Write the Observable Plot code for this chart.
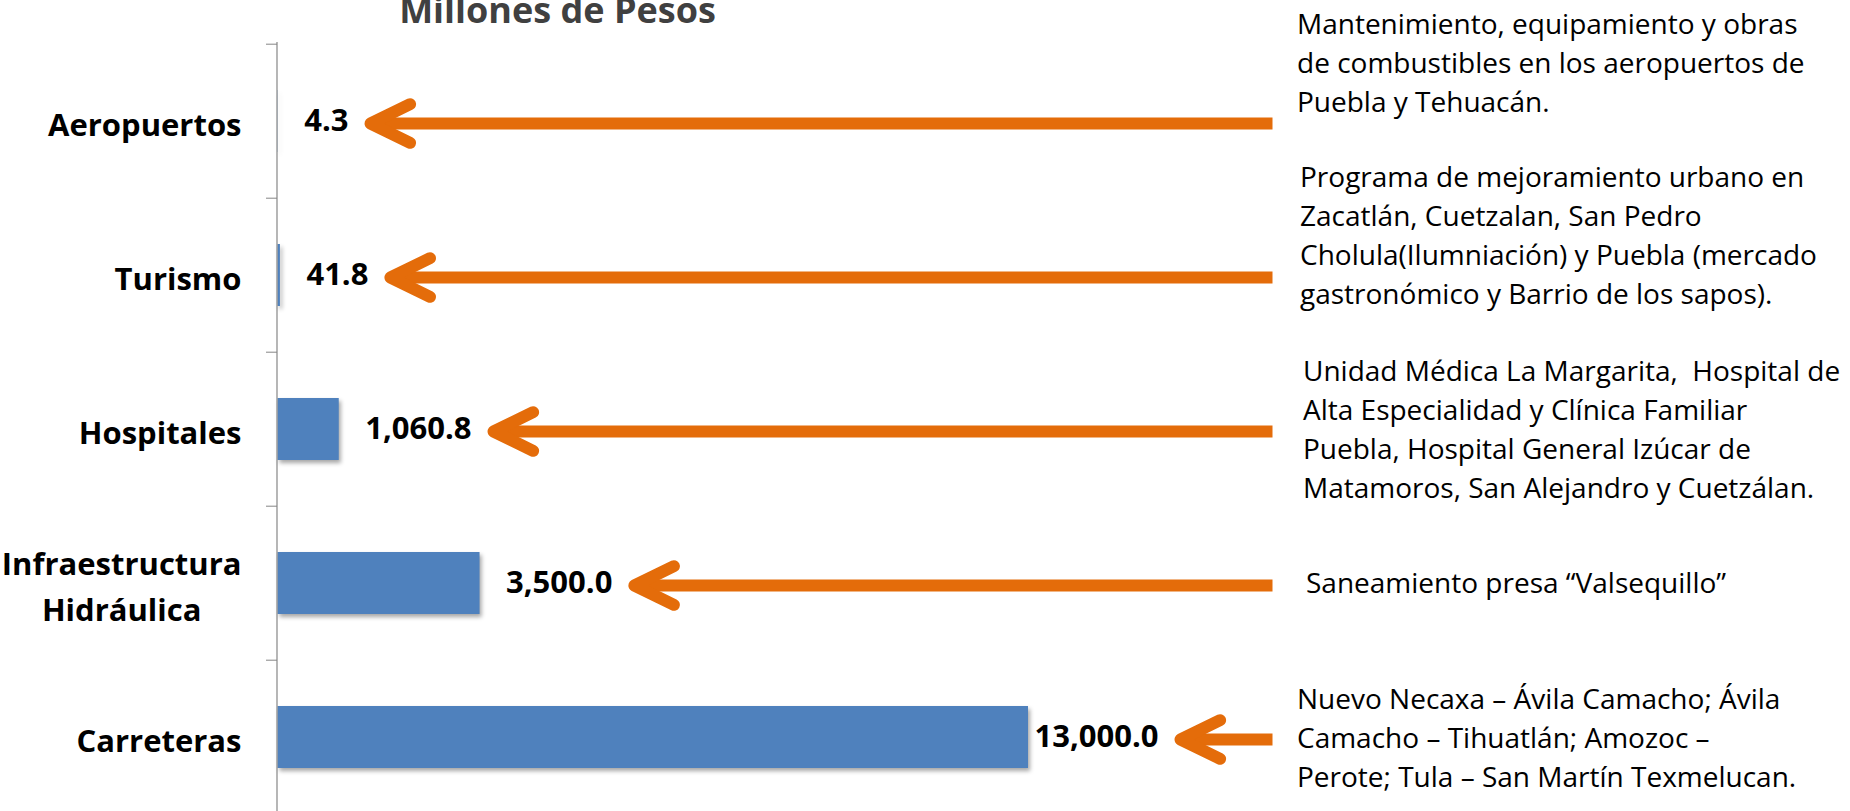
<!DOCTYPE html>
<html>
<head>
<meta charset="utf-8">
<script src="https://cdn.jsdelivr.net/npm/d3@7"></script>
<script src="https://cdn.jsdelivr.net/npm/@observablehq/plot@0.6"></script>
<style>
  html, body { margin: 0; padding: 0; background: #ffffff; }
  #wrap { position: relative; width: 1850px; height: 811px; overflow: hidden; font-family: 'Open Sans', sans-serif; }
  #wrap svg { position: absolute; left: 0; top: 0; }
  .note { position: absolute; font-size: 28px; line-height: 39px; color: #000; white-space: pre; }
</style>
</head>
<body>
<div id="wrap"></div>
<script>
// ---------------- data ----------------
const title = "Millones de Pesos";
const categories = ["Aeropuertos", "Turismo", "Hospitales", "Infraestructura\nHidráulica", "Carreteras"];
const values = [4.3, 41.8, 1060.8, 3500.0, 13000.0];
const notes = [
  "Mantenimiento, equipamiento y obras\nde combustibles en los aeropuertos de\nPuebla y Tehuacán.",
  "Programa de mejoramiento urbano en\nZacatlán, Cuetzalan, San Pedro\nCholula(Ilumniación) y Puebla (mercado\ngastronómico y Barrio de los sapos).",
  "Unidad Médica La Margarita,  Hospital de\nAlta Especialidad y Clínica Familiar\nPuebla, Hospital General Izúcar de\nMatamoros, San Alejandro y Cuetzálan.",
  "Saneamiento presa “Valsequillo”",
  "Nuevo Necaxa – Ávila Camacho; Ávila\nCamacho – Tihuatlán; Amozoc –\nPerote; Tula – San Martín Texmelucan."
];

// ---------------- layout ----------------
const W = 1850, H = 811;
const xDomain = [0, d3.max(values)];
const xRange = [277.5, 1028];
const yRange = [42, 815];
const step = (yRange[1] - yRange[0]) / categories.length;
const noteLefts = [1297, 1300, 1303, 1306, 1297];
const noteTops = [4, 157, 351, 563, 679];
const arrowTail = 1272;
const orange = "#E46C0A";
const fmt = d3.format(",.1f");
const valueFontSize = 31;

const data = categories.map((c, i) => ({cat: c, value: values[i]}));
const vmax = d3.max(values);
const isMax = d => d.value === vmax;

// measure value labels so each arrow points just past its label
const ctx = document.createElement("canvas").getContext("2d");
ctx.font = `bold ${valueFontSize}px 'Open Sans'`;
const xs = d3.scaleLinear(xDomain, xRange);
const labelDx = d => isMax(d) ? 6 : 26;
const arrows = data.map(d => ({
  cat: d.cat,
  x1: xs.invert(arrowTail),
  x2: xs.invert(xs(d.value) + labelDx(d) + ctx.measureText(fmt(d.value)).width + 16 + 6)
}));

// open chevron head (points left)
const half = 26 * Math.PI / 180;
const chevron = {
  draw(context, size) {
    const L = Math.sqrt(size / Math.PI);
    context.moveTo(L * Math.cos(half), -L * Math.sin(half));
    context.lineTo(0, 0);
    context.lineTo(L * Math.cos(half), L * Math.sin(half));
  }
};

const plot = Plot.plot({
  width: W, height: H,
  marginLeft: 277, marginRight: 0, marginTop: 42, marginBottom: 0,
  style: {fontFamily: "'Open Sans', sans-serif", background: "transparent"},
  x: {domain: xDomain, range: xRange, axis: null},
  y: {domain: categories, range: yRange, paddingInner: 0.6, paddingOuter: 0.3, label: null},
  marks: [
    Plot.barX(data, {x: "value", y: "cat", fill: "#4F81BD"}),
    Plot.ruleX([0], {dx: -1, stroke: "#868686", strokeWidth: 1.2}),
    Plot.axisY({tickSize: 11, tickFormat: () => "", dy: -step / 2, stroke: "#868686", label: null}),
    Plot.text(data, {y: "cat", text: "cat", frameAnchor: "left", textAnchor: "end", dx: -36,
      fontSize: 31, fontWeight: "bold", lineHeight: 1.48, fill: "#000"}),
    Plot.text(data.filter(d => !isMax(d)), {x: "value", y: "cat", text: d => fmt(d.value), textAnchor: "start",
      dx: 26, fontSize: valueFontSize, fontWeight: "bold", fill: "#000"}),
    Plot.text(data.filter(isMax), {x: "value", y: "cat", text: d => fmt(d.value), textAnchor: "start",
      dx: 6, fontSize: valueFontSize, fontWeight: "bold", fill: "#000"}),
    Plot.link(arrows, {x1: "x1", x2: "x2", y1: "cat", y2: "cat", dy: 2, stroke: orange, strokeWidth: 12, strokeLinecap: "butt"}),
    Plot.dot(arrows, {x: "x2", y: "cat", dy: 2, r: 44, symbol: chevron, fill: "none", stroke: orange,
      strokeWidth: 12, strokeLinecap: "round", strokeLinejoin: "round"}),
    Plot.text([title], {frameAnchor: "top-left", lineAnchor: "middle", dx: 557 - 277, dy: 10.5 - 42, textAnchor: "middle",
      fontSize: 36, fontWeight: "bold", fill: "#404040"})
  ]
});

const wrap = document.getElementById("wrap");
wrap.appendChild(plot);

// bar drop shadow
d3.select(plot).selectAll('g[aria-label="bar"]').style("filter", "drop-shadow(2px 3px 2px rgba(0,0,0,0.35))");

// center the lines of wrapped category labels (as in the original)
d3.select(plot).selectAll("text").each(function () {
  const tspans = this.querySelectorAll("tspan");
  if (tspans.length > 1) {
    const w = d3.max(Array.from(tspans), t => t.getComputedTextLength());
    this.setAttribute("text-anchor", "middle");
    const tr = this.getAttribute("transform") || "";
    this.setAttribute("transform", tr + ` translate(${-w / 2},0)`);
  }
});

// annotation text boxes
notes.forEach((t, i) => {
  const div = document.createElement("div");
  div.className = "note";
  div.style.left = noteLefts[i] + "px";
  div.style.top = noteTops[i] + "px";
  div.textContent = t;
  wrap.appendChild(div);
});
</script>
</body>
</html>
